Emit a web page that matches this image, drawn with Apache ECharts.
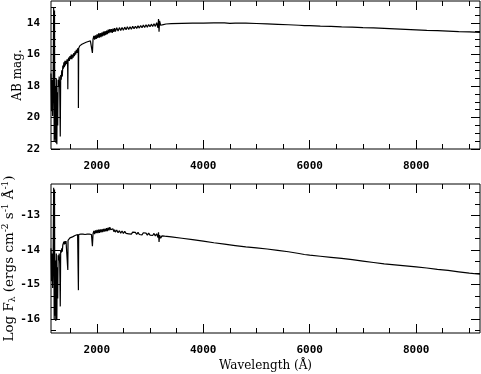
<!DOCTYPE html>
<html><head><meta charset="utf-8">
<script src="https://cdn.jsdelivr.net/npm/echarts/dist/echarts.min.js"></script>
<style>html,body{margin:0;padding:0;background:#fff}#c{width:481px;height:374px}</style>
</head><body><div id="c"></div><script>
// Wavelength grid (Angstrom)
const wavelength = [
  1140,1150,1160,1170,1180,1190,1200,1206,1212,1220,
  1230,1240,1250,1258,1266,1274,1284,1294,1304,1314,
  1322,1332,1342,1352,1362,1372,1382,1392,1402,1412,
  1422,1432,1442,1452,1456,1460,1472,1484,1496,1508,
  1520,1532,1544,1556,1568,1580,1592,1604,1616,1628,
  1640,1652,1655,1660,1680,1700,1720,1740,1760,1780,
  1800,1820,1840,1860,1880,1900,1918,
  1930,1945,1960,1975,1990,2005,2020,2035,2050,2065,2080,2095,2110,2125,2140,2155,2170,2185,2200,2215,2230,2245,2260,2275,2290,2305,2320,2335,2350,
  2375,2400,2425,2450,2475,2500,2525,2550,2575,2600,2625,2650,2675,2700,2725,2750,2775,2800,2825,2850,2875,2900,2925,2950,2975,3000,3025,3050,3075,3100,3125,3150,3160,3170,3180,3200,3225,3250,3275,3300,
  3400,3600,3800,4000,4200,4400,4500,4600,4800,5000,5200,5400,5600,5800,5900,6000,6200,6400,6600,6800,7000,7200,7400,7600,7800,8000,8200,8400,8600,8800,9000,9200
];
// AB magnitude (top panel)
const abMag = [
  17.2,19.6,17.6,19.9,17.8,13.0,21.5,13.2,21.4,18.0,
  21.6,17.5,21.7,18.4,20.5,17.6,18.0,17.4,18.2,21.2,
  17.3,17.6,17.0,17.4,16.7,16.9,16.5,16.8,16.4,16.7,
  16.4,16.6,16.3,16.5,18.2,16.4,16.2,16.4,16.1,16.3,
  16.0,16.3,16.0,16.2,15.9,16.1,15.8,16.0,15.7,15.9,
  15.6,15.8,19.4,15.6,15.45,15.4,15.35,15.3,15.28,15.25,
  15.22,15.2,15.17,15.15,15.13,15.1,15.9,
  15.02,14.82,15.06,14.78,15.0,14.72,14.95,14.66,14.92,14.64,14.9,14.6,14.84,14.55,14.8,14.52,14.76,14.48,14.7,14.42,14.64,14.38,14.6,14.38,14.62,14.36,14.56,14.32,14.54,
  14.3,14.5,14.29,14.47,14.28,14.46,14.26,14.42,14.24,14.41,14.23,14.39,14.21,14.36,14.2,14.34,14.18,14.32,14.16,14.3,14.13,14.28,14.11,14.26,14.09,14.24,14.07,14.22,14.05,14.21,13.98,14.3,13.74,14.55,13.86,14.14,14.02,14.1,14.04,14.06,
  14.04,14.02,14.01,14.0,13.99,13.99,14.02,14.0,14.01,14.03,14.05,14.08,14.11,14.14,14.17,14.16,14.19,14.21,14.24,14.26,14.29,14.31,14.34,14.37,14.4,14.43,14.46,14.48,14.51,14.54,14.56,14.59
];
// Log F_lambda (bottom panel)
const logFlux = [
  -13.95,-14.9,-14.1,-15.1,-14.2,-12.2,-16.0,-12.25,-15.9,-14.3,
  -16.05,-14.1,-16.0,-14.5,-15.4,-14.15,-14.3,-14.1,-14.4,-15.63,
  -14.0,-14.08,-13.95,-14.05,-13.85,-13.9,-13.76,-13.84,-13.74,-13.82,
  -13.74,-13.79,-13.71,-13.76,-14.58,-13.72,-13.68,-13.72,-13.65,-13.7,
  -13.62,-13.7,-13.62,-13.66,-13.6,-13.65,-13.58,-13.62,-13.56,-13.6,
  -13.55,-13.58,-15.16,-13.55,-13.55,-13.54,-13.55,-13.54,-13.55,-13.55,
  -13.55,-13.54,-13.55,-13.54,-13.54,-13.55,-13.89,
  -13.53,-13.45,-13.54,-13.43,-13.51,-13.42,-13.51,-13.41,-13.5,-13.4,-13.49,-13.4,-13.48,-13.39,-13.47,-13.38,-13.46,-13.37,-13.45,-13.35,-13.43,-13.34,-13.41,-13.36,-13.45,-13.39,-13.47,-13.41,-13.48,
  -13.42,-13.5,-13.44,-13.51,-13.45,-13.52,-13.46,-13.52,-13.47,-13.53,-13.48,-13.54,-13.48,-13.53,-13.49,-13.55,-13.49,-13.55,-13.5,-13.56,-13.5,-13.55,-13.51,-13.57,-13.51,-13.57,-13.52,-13.58,-13.52,-13.59,-13.53,-13.64,-13.49,-13.77,-13.57,-13.66,-13.59,-13.62,-13.6,-13.61,
  -13.62,-13.66,-13.7,-13.74,-13.79,-13.83,-13.85,-13.87,-13.91,-13.94,-13.97,-14.01,-14.05,-14.1,-14.13,-14.15,-14.18,-14.21,-14.24,-14.28,-14.32,-14.36,-14.4,-14.43,-14.46,-14.49,-14.52,-14.56,-14.59,-14.63,-14.67,-14.7
];
const xMajorTicks = [2000,4000,6000,8000];
const xMinorTicks = [1500,2500,3000,3500,4500,5000,5500,6500,7000,7500,8500,9000];
const magMajorTicks = [14,16,18,20,22];
const magMinorTicks = [13,13.5,14.5,15,15.5,16.5,17,17.5,18.5,19,19.5,20.5,21,21.5];
const fluxMajorTicks = [-16,-15,-14,-13];
const fluxMinorTicks = [-16.333,-15.667,-15.333,-14.667,-14.333,-13.667,-13.333,-12.667,-12.333];

const black = '#000';
const tickFont = {color: black, fontFamily: 'DejaVu Sans Mono', fontWeight: 'bold', fontSize: 11};
const titleFont = {color: black, fontFamily: 'DejaVu Serif', fontSize: 12};

function xAx(gi, pos, ticks, len, showLabel, extra) {
  return Object.assign({
    gridIndex: gi, type: 'value', min: 1140, max: 9200, position: pos,
    axisLine: {show: false}, splitLine: {show: false},
    axisTick: {show: true, inside: true, length: len, customValues: ticks, lineStyle: {color: black, width: 1}},
    axisLabel: Object.assign({show: showLabel, customValues: ticks, margin: 12, formatter: v => String(v)}, tickFont)
  }, extra || {});
}
function yAx(gi, pos, ticks, len, showLabel, range, extra) {
  return Object.assign({
    gridIndex: gi, type: 'value', min: range[0], max: range[1], inverse: range[2], position: pos,
    axisLine: {show: false}, splitLine: {show: false},
    axisTick: {show: true, inside: true, length: len, customValues: ticks, lineStyle: {color: black, width: 1}},
    axisLabel: Object.assign({show: showLabel, customValues: ticks, margin: 11, padding: [4,0,0,0], formatter: v => String(v)}, tickFont)
  }, extra || {});
}
const magRange = [12.6, 22, true];
const fluxRange = [-16.4, -12.09, false];

const chart = echarts.init(document.getElementById('c'), null, {renderer: 'canvas'});
chart.setOption({
  animation: false,
  backgroundColor: '#fff',
  grid: [
    {left: 51, top: 1, width: 429, height: 148, show: true, borderColor: black, borderWidth: 1, backgroundColor: 'transparent', containLabel: false, outerBoundsMode: 'none'},
    {left: 51, top: 184, width: 429, height: 149, show: true, borderColor: black, borderWidth: 1, backgroundColor: 'transparent', containLabel: false, outerBoundsMode: 'none'}
  ],
  xAxis: [
    xAx(0, 'bottom', xMajorTicks, 9, true),
    xAx(0, 'bottom', xMinorTicks, 5, false),
    xAx(0, 'top', xMajorTicks, 9, false),
    xAx(0, 'top', xMinorTicks, 5, false),
    xAx(1, 'bottom', xMajorTicks, 9, true, {name: 'Wavelength (Å)', nameLocation: 'middle', nameGap: 27, nameMoveOverlap: false, nameTextStyle: titleFont}),
    xAx(1, 'bottom', xMinorTicks, 5, false),
    xAx(1, 'top', xMajorTicks, 9, false),
    xAx(1, 'top', xMinorTicks, 5, false)
  ],
  yAxis: [
    yAx(0, 'left', magMajorTicks, 9, true, magRange, {name: 'AB mag.', nameLocation: 'middle', nameGap: 27, nameMoveOverlap: false, nameTextStyle: titleFont}),
    yAx(0, 'left', magMinorTicks, 5, false, magRange),
    yAx(0, 'right', magMajorTicks, 9, false, magRange),
    yAx(0, 'right', magMinorTicks, 5, false, magRange),
    yAx(1, 'left', fluxMajorTicks, 9, true, fluxRange, {
      name: '{a|Log F}{s|λ}{a| (ergs cm}{p|-2}{a| s}{p|-1}{a| Å}{p|-1}{a|)}',
      nameLocation: 'middle', nameGap: 34, nameMoveOverlap: false,
      nameTextStyle: {color: black, rich: {
        a: {fontFamily: 'DejaVu Serif', fontSize: 13.5, lineHeight: 16, color: black},
        s: {fontFamily: 'DejaVu Serif', fontSize: 9, lineHeight: 16, verticalAlign: 'bottom', color: black},
        p: {fontFamily: 'DejaVu Serif', fontSize: 9, lineHeight: 16, verticalAlign: 'top', color: black}
      }}
    }),
    yAx(1, 'left', fluxMinorTicks, 5, false, fluxRange),
    yAx(1, 'right', fluxMajorTicks, 9, false, fluxRange),
    yAx(1, 'right', fluxMinorTicks, 5, false, fluxRange)
  ],
  series: [
    {type: 'line', xAxisIndex: 0, yAxisIndex: 0, showSymbol: false, symbol: 'none',
     lineStyle: {color: black, width: 1.2}, data: wavelength.map((w, i) => [w, abMag[i]])},
    {type: 'line', xAxisIndex: 4, yAxisIndex: 4, showSymbol: false, symbol: 'none',
     lineStyle: {color: black, width: 1.2}, data: wavelength.map((w, i) => [w, logFlux[i]])}
  ]
});
</script></body></html>
